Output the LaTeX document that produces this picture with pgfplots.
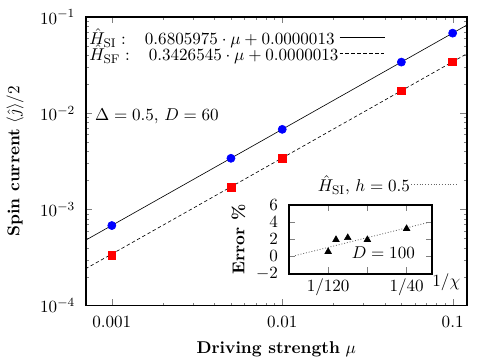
\documentclass[border=0pt]{standalone}
\usepackage{pgfplots}
\pgfplotsset{compat=1.18}
\pgfplotsset{
  every axis/.append style={font=\fontsize{10.95}{13.6}\selectfont},
  longline legend/.style={legend image code/.code={\draw[##1] (0pt,0pt) -- (29pt,0pt);}},
}
\begin{document}
\begin{tikzpicture}
\useasboundingbox (-55.1pt,-36.5pt) rectangle (264.1pt,195.9pt);
\begin{axis}[
  anchor=south west, scale only axis,
  width=244pt, height=185pt,
  xmode=log, ymode=log,
  xmin=0.000705, xmax=0.1208, ymin=1e-4, ymax=1e-1,
  xtick={0.001,0.01,0.1}, xticklabels={$0.001$,$0.01$,$0.1$},
  ytick={1e-4,1e-3,1e-2,1e-1},
  axis line style={line width=1.1pt},
  major tick length=4pt, minor tick length=2pt,
  xticklabel style={yshift=-3.5pt},
  yticklabel style={xshift=-3.5pt},
  xlabel={\textbf{Driving strength} $\mu$},
  ylabel={\textbf{Spin current} $\langle\hat{\jmath}\rangle/2$},
  xlabel style={at={(axis description cs:0.5,-0.152)}, anchor=center},
  ylabel style={at={(axis description cs:-0.186,0.5)}, anchor=center},
  legend style={draw=none, fill=none, at={(axis description cs:0.006,0.965)}, anchor=north west,
    inner sep=0pt, row sep=-2.6pt, nodes={inner sep=0.5pt},
    /tikz/every even column/.append style={column sep=8pt}},
  legend plot pos=right,
  legend cell align=left,
  longline legend,
]
\addplot[black, line width=0.4pt] coordinates {(0.0007,0.0004777) (0.001,0.0006819) (0.01,0.0068073) (0.1,0.0680611) (0.12,0.0816730)};
\addlegendentry{$\hat H_{\mathrm{SI}}:\;\;\;0.6805975\cdot\mu+0.0000013$}
\addplot[black, line width=0.4pt, dash pattern=on 2.2pt off 1.6pt] coordinates {(0.0007,0.0002412) (0.001,0.0003440) (0.01,0.0034279) (0.1,0.0342668) (0.12,0.0411199)};
\addlegendentry{$\hat H_{\mathrm{SF}}:\;\;\;0.3426545\cdot\mu+0.0000013$}
\addplot[only marks, mark=*, mark size=2.6pt, blue] coordinates {(0.001,0.00068) (0.005,0.0034) (0.01,0.0068) (0.05,0.034) (0.1,0.068)};
\addplot[only marks, mark=square*, mark size=2.5pt, red] coordinates {(0.001,0.000335) (0.005,0.00171) (0.01,0.00343) (0.05,0.0171) (0.1,0.0343)};
\node[anchor=west] at (axis cs:0.00074,0.0092) {$\Delta=0.5$, $D=60$};
\end{axis}
\begin{axis}[
  at={(130.1pt,20.5pt)}, anchor=south west, scale only axis,
  width=91.7pt, height=44.2pt,
  xmin=0, xmax=0.0304, ymin=-2, ymax=6,
  scaled x ticks=false,
  xtick={0.0083333,0.0166667,0.025}, xticklabels={$1/120$,,$1/40$},
  ytick={-2,0,2,4,6},
  axis line style={line width=1.4pt},
  major tick length=4pt,
  yticklabel style={xshift=-3.5pt},
  axis background/.style={fill=white},
  xlabel={$1/\chi$},
  xlabel style={at={(axis description cs:1.1,-0.12)}, anchor=center},
  ylabel={\textbf{Error \%}},
  legend style={draw=none, fill=none, at={(axis description cs:1.175,1.29)}, anchor=east,
    inner sep=0pt, nodes={inner sep=0.5pt},
    /tikz/every even column/.append style={column sep=7pt}},
  legend plot pos=right,
  longline legend,
]
\addplot[black!60, line width=0.5pt, dash pattern=on 0.6pt off 1.2pt] coordinates {(0.0013,0.09) (0.0294,3.91)};
\addlegendentry{$\hat H_{\mathrm{SI}}$, $h=0.5$}
\addplot[only marks, mark=triangle*, mark size=2.4pt, black] coordinates {(0.0083333,0.55) (0.01,1.94) (0.0125,2.17) (0.0166667,1.94) (0.025,3.22)};
\node[anchor=west] at (axis cs:0.0122,0.45) {$D=100$};
\end{axis}
\end{tikzpicture}
\end{document}
